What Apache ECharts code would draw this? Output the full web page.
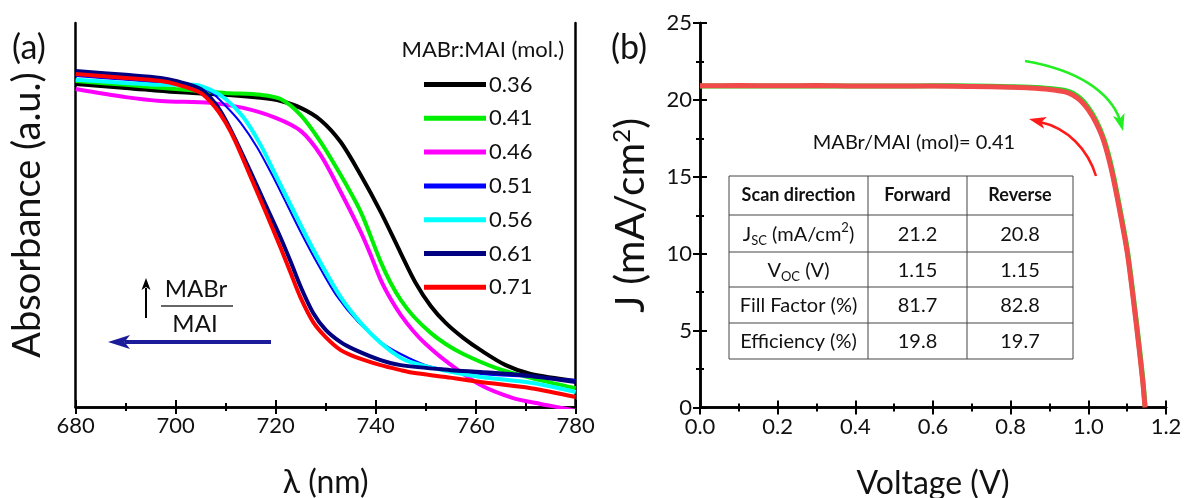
<!DOCTYPE html>
<html>
<head>
<meta charset="utf-8">
<script src="https://cdn.jsdelivr.net/npm/echarts@6/dist/echarts.min.js"></script>
<style>
html, body { margin: 0; padding: 0; background: #fff; }
#chart { width: 1185px; height: 498px; }
</style>
</head>
<body>
<div id="chart"></div>
<script>
// (a) absorbance spectra, [wavelength (nm), absorbance (a.u.)]
const ratios = ['0.36', '0.41', '0.46', '0.51', '0.56', '0.61', '0.71'];
const ratioColors = ['#000000', '#00ee00', '#ff00ff', '#0000ff', '#00ffff', '#000080', '#ff0000'];
const abs036 = [[680,0.841],[690,0.831],[700,0.820],[710,0.813],[717,0.805],[721,0.797],[725,0.779],[729,0.747],[733,0.690],[737,0.604],[741,0.508],[745,0.401],[748,0.323],[751,0.263],[754,0.219],[757.5,0.180],[761,0.148],[766,0.109],[771,0.086],[780,0.068]];
const abs041 = [[680,0.849],[690,0.839],[700,0.828],[710,0.818],[717,0.813],[721,0.802],[725,0.760],[729,0.690],[733,0.604],[737,0.508],[741,0.378],[743,0.323],[745,0.279],[747.5,0.237],[751,0.193],[754,0.164],[757.5,0.138],[764,0.102],[771,0.076],[780,0.049]];
const abs046 = [[680,0.828],[690,0.807],[697,0.797],[707,0.792],[713.5,0.779],[720,0.753],[725,0.719],[729,0.656],[733,0.560],[737,0.456],[739,0.396],[741,0.331],[743,0.281],[745,0.240],[747.5,0.198],[750,0.164],[754,0.120],[761,0.057],[767.5,0.023],[773,0.008],[777.5,-0.003],[780,-0.010]];
const abs051 = [[680,0.862],[690,0.852],[697,0.844],[703,0.839],[707,0.820],[710,0.784],[713,0.740],[716.3,0.676],[719.3,0.604],[722.3,0.526],[725.3,0.448],[728.3,0.375],[732.2,0.289],[736.5,0.221],[741,0.169],[745,0.138],[750,0.109],[755,0.096],[761,0.086],[771,0.078],[780,0.070]];
const abs056 = [[680,0.852],[690,0.844],[697,0.839],[703.5,0.839],[707,0.826],[710,0.802],[713.5,0.755],[717,0.682],[720,0.604],[723,0.526],[726,0.448],[729,0.375],[733,0.286],[737,0.219],[741,0.167],[745,0.128],[747.5,0.115],[754,0.094],[761,0.078],[771,0.063],[780,0.039]];
const abs061 = [[680,0.875],[690,0.865],[697,0.857],[700,0.849],[705,0.828],[708,0.789],[710,0.747],[712,0.695],[715,0.612],[718,0.526],[721,0.440],[723,0.378],[725,0.313],[727.5,0.245],[730,0.201],[733,0.169],[736,0.148],[741,0.122],[745,0.109],[755,0.096],[761,0.091],[771,0.081],[780,0.065]];
const abs071 = [[680,0.867],[690,0.857],[697,0.849],[700,0.841],[705,0.818],[708,0.779],[710,0.740],[712,0.690],[715,0.599],[718,0.508],[721,0.414],[723,0.349],[725,0.284],[727.5,0.221],[730,0.182],[733,0.148],[736,0.130],[741,0.109],[745,0.096],[747.5,0.089],[754,0.078],[761,0.065],[771,0.049],[780,0.026]];
const spectra = [abs036, abs041, abs046, abs051, abs056, abs061, abs071];

// (b) J-V curves, MABr/MAI = 0.41
const voltage  = [0, 0.1, 0.2, 0.3, 0.4, 0.5, 0.6, 0.7, 0.8, 0.85, 0.9, 0.94, 0.96, 0.98, 1.0, 1.02, 1.04, 1.06, 1.08, 1.1, 1.115, 1.13, 1.14, 1.146];
const jReverse = [20.92, 20.93, 20.92, 20.93, 20.9, 20.9, 20.9, 20.87, 20.82, 20.78, 20.68, 20.52, 20.32, 19.95, 19.35, 18.5, 17.3, 15.4, 12.9, 10.1, 7.2, 4.0, 1.7, 0];
const jForward = [20.9, 20.9, 20.9, 20.92, 20.9, 20.9, 20.92, 20.9, 20.86, 20.83, 20.75, 20.62, 20.44, 20.08, 19.5, 18.65, 17.45, 15.6, 13.1, 10.3, 7.4, 4.2, 1.9, 0.1];

// table in (b)
const tableHeader = ['Scan direction', 'Forward', 'Reverse'];
const tableRows = [
  ['J{sub|SC} (mA/cm{sup|2})', '21.2', '20.8'],
  ['V{sub|OC} (V)', '1.15', '1.15'],
  ['Fill Factor (%)', '81.7', '82.8'],
  ['Efficiency (%)', '19.8', '19.7']
];

const FONT = 'Lato';
const chart = echarts.init(document.getElementById('chart'));

function arrowHead(tipX, tipY, fromX, fromY, len, halfW, color) {
  const dx = tipX - fromX, dy = tipY - fromY;
  const d = Math.sqrt(dx * dx + dy * dy);
  const ux = dx / d, uy = dy / d;
  const bx = tipX - ux * len, by = tipY - uy * len;
  return {
    type: 'polygon',
    shape: { points: [[tipX, tipY], [bx - uy * halfW, by + ux * halfW], [bx + ux * len * 0.25, by + uy * len * 0.25], [bx + uy * halfW, by - ux * halfW]] },
    style: { fill: color }
  };
}

function frameAxis(extra) {
  return Object.assign({
    axisLine: { show: true, lineStyle: { color: '#000', width: 2.5 } },
    axisTick: { show: true, inside: true, length: 7, lineStyle: { color: '#000', width: 2 } },
    minorTick: { show: true, splitNumber: 2, length: 4, lineStyle: { color: '#000', width: 2 } },
    splitLine: { show: false },
    axisLabel: { show: false }
  }, extra);
}

const tickLabel = { show: true, color: '#111', fontSize: 22, fontFamily: FONT, margin: 8 };
const axisName = { color: '#111', fontSize: 32, fontFamily: FONT };

// table graphics
const colX = [729, 868, 967, 1073];
const rowY = [176, 215, 252, 287, 323, 359];
const tableEls = [];
tableEls.push({ type: 'rect', shape: { x: colX[0], y: rowY[0], width: colX[3] - colX[0], height: rowY[5] - rowY[0] }, style: { fill: '#fff', stroke: '#444', lineWidth: 1 } });
for (let i = 1; i < 5; i++) {
  tableEls.push({ type: 'line', shape: { x1: colX[0], y1: rowY[i], x2: colX[3], y2: rowY[i] }, style: { stroke: '#444', lineWidth: 1 } });
}
for (let j = 1; j < 3; j++) {
  tableEls.push({ type: 'line', shape: { x1: colX[j], y1: rowY[0], x2: colX[j], y2: rowY[5] }, style: { stroke: '#444', lineWidth: 1 } });
}
const rich = {
  sub: { fontSize: 13, lineHeight: 13, verticalAlign: 'bottom', fontFamily: FONT, fill: '#111' },
  sup: { fontSize: 13, lineHeight: 13, verticalAlign: 'top', fontFamily: FONT, fill: '#111' }
};
tableHeader.forEach((t, j) => {
  tableEls.push({ type: 'text', x: (colX[j] + colX[j + 1]) / 2, y: (rowY[0] + rowY[1]) / 2,
    style: { text: t, fontSize: 18, fontWeight: 'bold', fontFamily: FONT, fill: '#111', align: 'center', verticalAlign: 'middle' } });
});
tableRows.forEach((row, i) => {
  row.forEach((t, j) => {
    tableEls.push({ type: 'text', x: (colX[j] + colX[j + 1]) / 2, y: (rowY[i + 1] + rowY[i + 2]) / 2 + 1,
      style: { text: t, fontSize: 20, lineHeight: 26, fontFamily: FONT, fill: '#111', align: 'center', verticalAlign: 'middle', rich: rich } });
  });
});

const option = {
  animation: false,
  backgroundColor: '#fff',
  textStyle: { fontFamily: FONT },
  grid: [
    { left: 75.7, right: 609.3, top: 23, bottom: 91, outerBoundsMode: 'none', containLabel: false },
    { left: 700, right: 19, top: 23, bottom: 90.5, outerBoundsMode: 'none', containLabel: false }
  ],
  legend: {
    data: ratios,
    orient: 'vertical',
    left: 424,
    top: 73.5,
    padding: 0,
    itemWidth: 62,
    itemHeight: 5,
    itemGap: 11.8,
    icon: 'rect',
    textStyle: { fontSize: 22, lineHeight: 21, color: '#111', fontFamily: FONT, padding: [0, 0, 0, -2] }
  },
  xAxis: [
    frameAxis({ gridIndex: 0, type: 'value', min: 680, max: 780, interval: 20, position: 'bottom',
      name: 'λ (nm)', nameLocation: 'middle', nameGap: 60, nameTextStyle: axisName, axisLabel: tickLabel }),
    frameAxis({ gridIndex: 0, type: 'value', min: 680, max: 780, interval: 20, position: 'top' }),
    frameAxis({ gridIndex: 1, type: 'value', min: 0, max: 1.2, interval: 0.2, position: 'bottom',
      name: 'Voltage (V)', nameLocation: 'middle', nameGap: 60, nameTextStyle: axisName,
      axisLabel: Object.assign({}, tickLabel, { formatter: v => v.toFixed(1) }) }),
    frameAxis({ gridIndex: 1, type: 'value', min: 0, max: 1.2, interval: 0.2, position: 'top' })
  ],
  yAxis: [
    frameAxis({ gridIndex: 0, type: 'value', min: 0, max: 1, position: 'left', axisTick: { show: false }, minorTick: { show: false },
      name: 'Absorbance (a.u.)', nameLocation: 'middle', nameGap: 29,
      nameTextStyle: Object.assign({}, axisName, { fontSize: 38 }) }),
    frameAxis({ gridIndex: 0, type: 'value', min: 0, max: 1, position: 'right', axisTick: { show: false }, minorTick: { show: false } }),
    frameAxis({ gridIndex: 1, type: 'value', min: 0, max: 25, interval: 5, position: 'left',
      name: 'J (mA/cm{sup|2})', nameLocation: 'middle', nameGap: 49,
      nameTextStyle: Object.assign({}, axisName, { fontSize: 41, rich: { sup: { fontSize: 24, verticalAlign: 'top', lineHeight: 24, fontFamily: FONT, color: '#111' } } }),
      axisLabel: tickLabel }),
    frameAxis({ gridIndex: 1, type: 'value', min: 0, max: 25, interval: 5, position: 'right' })
  ],
  series: spectra.map((d, i) => ({
    name: ratios[i],
    type: 'line',
    xAxisIndex: 0,
    yAxisIndex: 0,
    data: d,
    symbol: 'none',
    smooth: 0.3,
    color: ratioColors[i],
    lineStyle: { width: i === 3 ? 2 : 4, color: ratioColors[i] }
  })).concat([
    { name: 'Forward', type: 'line', xAxisIndex: 2, yAxisIndex: 2, symbol: 'none', smooth: 0.3,
      data: voltage.map((v, k) => [v, jForward[k]]), lineStyle: { width: 5, color: '#22dd22' } },
    { name: 'Reverse', type: 'line', xAxisIndex: 2, yAxisIndex: 2, symbol: 'none', smooth: 0.3,
      data: voltage.map((v, k) => [v, jReverse[k]]), lineStyle: { width: 5, color: '#f04a4a' } }
  ]),
  graphic: [
    { type: 'text', x: 29, y: 48, style: { text: '(a)', fontSize: 34, fontFamily: FONT, fill: '#111', align: 'center', verticalAlign: 'middle' } },
    { type: 'text', x: 629, y: 48, style: { text: '(b)', fontSize: 34, fontFamily: FONT, fill: '#111', align: 'center', verticalAlign: 'middle' } },
    { type: 'text', x: 564, y: 50, style: { text: 'MABr:MAI (mol.)', fontSize: 22, fontFamily: FONT, fill: '#111', align: 'right', verticalAlign: 'middle' } },
    // MABr / MAI fraction with arrows
    { type: 'text', x: 196, y: 289, style: { text: 'MABr', fontSize: 24, fontFamily: FONT, fill: '#111', align: 'center', verticalAlign: 'middle' } },
    { type: 'line', shape: { x1: 161, y1: 306, x2: 233, y2: 306 }, style: { stroke: '#333', lineWidth: 1.5 } },
    { type: 'text', x: 195, y: 324, style: { text: 'MAI', fontSize: 24, fontFamily: FONT, fill: '#111', align: 'center', verticalAlign: 'middle' } },
    { type: 'line', shape: { x1: 146, y1: 318, x2: 146, y2: 288 }, style: { stroke: '#000', lineWidth: 2 } },
    arrowHead(146, 278, 146, 300, 12, 4.5, '#000'),
    { type: 'line', shape: { x1: 271, y1: 342, x2: 125, y2: 342 }, style: { stroke: '#1c1c9a', lineWidth: 4 } },
    arrowHead(108, 342, 140, 342, 22, 7, '#1c1c9a'),
    // panel (b) annotations
    { type: 'text', x: 914, y: 143, style: { text: 'MABr/MAI (mol)= 0.41', fontSize: 20, fontFamily: FONT, fill: '#111', align: 'center', verticalAlign: 'middle' } },
    { type: 'bezierCurve', shape: { x1: 1025, y1: 61, cpx1: 1078, cpy1: 70, cpx2: 1110, cpy2: 92, x2: 1120, y2: 120 }, style: { stroke: '#22ee22', lineWidth: 2.5, fill: null } },
    arrowHead(1123, 131, 1117, 108, 17, 6, '#22ee22'),
    { type: 'bezierCurve', shape: { x1: 1096, y1: 176, cpx1: 1088, cpy1: 150, cpx2: 1068, cpy2: 128, x2: 1040, y2: 122 }, style: { stroke: '#ff1a1a', lineWidth: 2.5, fill: null } },
    arrowHead(1029, 119, 1050, 124, 17, 6, '#ff1a1a')
  ].concat(tableEls)
};

chart.setOption(option);
</script>
</body>
</html>
